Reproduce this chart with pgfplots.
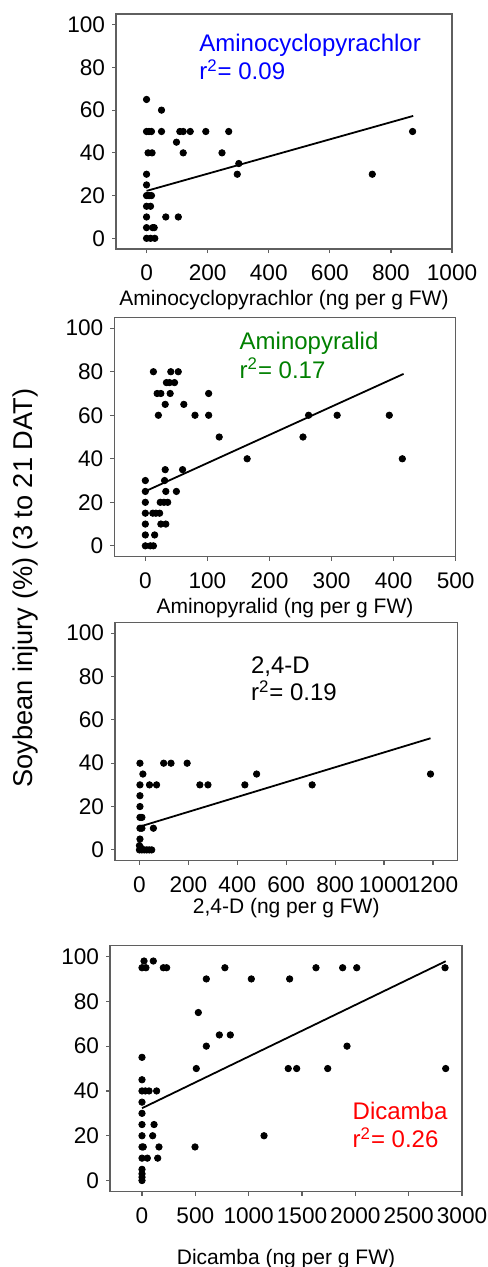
\documentclass[border=0pt]{standalone}
\usepackage{fontspec}
\setmainfont{Liberation Sans}
\usepackage{pgfplots}
\pgfplotsset{compat=1.18}

\definecolor{annblue}{RGB}{0,0,255}
\definecolor{anngreen}{RGB}{0,128,0}
\definecolor{annred}{RGB}{255,0,0}
\definecolor{boxgray}{RGB}{95,95,95}

\pgfplotsset{
  panel/.style={
    scale only axis,
    ymin=-5, ymax=105, ytick={0,20,...,100},
    axis line style={boxgray, line width=0.7bp},
    tick align=outside,
    major tick length=2bp,
    tick style={boxgray, line width=0.6bp},
    xtick pos=bottom, ytick pos=left,
    ticklabel style={font=\fontsize{11.3bp}{13bp}\selectfont},
    xticklabel style={yshift=-2.5bp},
    /pgf/number format/assume math mode=true,
    /pgf/number format/1000 sep={},
    label style={font=\fontsize{10.5bp}{12bp}\selectfont},
    xlabel style={at={(axis description cs:0.5,0)}, anchor=center},
  },
  pts/.style={only marks, mark=*, mark size=1.6bp, mark options={fill=black, draw=black}},
  fit/.style={no marks, black, line width=0.9bp},
}
\tikzset{ann/.style={anchor=base west, inner sep=0pt, font=\fontsize{12bp}{14bp}\selectfont}}

\begin{document}
\begin{tikzpicture}[x=0.5bp, y=-0.5bp]

% panel 1: aminocyclopyrachlor
\begin{axis}[panel, at={(58bp,-124.5bp)}, anchor=south west,
  width=168bp, height=117.5bp,
  xmin=-100, xmax=1000, xtick={0,200,...,1000},
  xlabel={Aminocyclopyrachlor (ng per g FW)},
  xlabel style={yshift=-25.5bp}]
  \addplot[pts] coordinates {
    (0,65)(49,60)
    (0,50)(8,50)(16,50)(49,50)(109,50)(120,50)(143,50)(194,50)(269,50)(871,50)
    (98,45)
    (5,40)(18,40)(120,40)(247,40)
    (302,35)
    (0,30)(297,30)(739,30)
    (0,25)
    (0,20)(5,20)(10,20)(16,20)
    (0,15)(13,15)
    (0,10)(63,10)(104,10)
    (0,5)(20,5)(25,5)
    (0,0)(13,0)(27,0)};
  \addplot[fit] coordinates {(0,22.2)(873,57.3)};
\end{axis}

% panel 2: aminopyralid
\begin{axis}[panel, at={(57.15bp,-278.35bp)}, anchor=south west,
  width=170.7bp, height=119.7bp,
  xmin=-50, xmax=500, xtick={0,100,...,500},
  xlabel={Aminopyralid (ng per g FW)},
  xlabel style={yshift=-25.5bp}]
  \addplot[pts] coordinates {
    (13,80)(41,80)(53,80)
    (34,75)(39,75)(47,75)
    (19,70)(25,70)(40,70)(102,70)
    (32,65)(62,65)
    (21,60)(80,60)(102,60)(263,60)(309,60)(393,60)
    (119,50)(254,50)
    (164,40)(414,40)
    (32,35)(60,35)
    (0,30)(31,30)
    (0,25)(33,25)(50,25)
    (0,20)(24,20)(30,20)(36,20)
    (0,15)(12,15)(17,15)(23,15)
    (0,10)(25,10)(33,10)
    (0,5)(15,5)
    (0,0)(8,0)(13,0)};
  \addplot[fit] coordinates {(1,25.2)(416,79)};
\end{axis}

% panel 3: 2,4-D
\begin{axis}[panel, at={(57.5bp,-430.35bp)}, anchor=south west,
  width=171.2bp, height=119.2bp,
  xmin=-100, xmax=1300, xtick={0,200,...,1200},
  xlabel={2,4-D (ng per g FW)},
  xlabel style={yshift=-23.5bp}]
  \addplot[pts] coordinates {
    (2,40)(99,40)(129,40)(195,40)
    (14,35)(479,35)(1190,35)
    (2,30)(41,30)(70,30)(247,30)(280,30)(431,30)(706,30)
    (2,25)(2,20)(2,15)(10,15)(2,10)(10,10)(57,10)(2,5)
    (0,2)(5,1)(0,0)(10,0)(20,0)(30,0)(40,0)(50,0)};
  \addplot[fit] coordinates {(3,10.8)(1190,51.5)};
\end{axis}

% panel 4: dicamba
\begin{axis}[panel, at={(55bp,-595.85bp)}, anchor=south west,
  width=176bp, height=123.2bp,
  xmin=-300, xmax=3000, xtick={0,500,...,3000},
  xlabel={Dicamba (ng per g FW)},
  xlabel style={yshift=-33.5bp}]
  \addplot[pts] coordinates {
    (19,98)(106,98)
    (0,95)(37,95)(200,95)(231,95)(777,95)(1631,95)(1881,95)(2013,95)(2841,95)
    (603,90)(1025,90)(1384,90)
    (528,75)
    (725,65)(828,65)
    (603,60)(1922,60)
    (0,55)
    (509,50)(1371,50)(1450,50)(1741,50)(2847,50)
    (0,45)
    (0,40)(31,40)(66,40)(137,40)
    (0,35)(0,30)
    (0,25)(113,25)
    (0,20)(100,20)(1144,20)
    (0,15)(12,15)(159,15)(497,15)
    (0,10)(50,10)(147,10)
    (0,5)(0,3)(0,1.5)(0,0)};
  \addplot[fit] coordinates {(0,32.3)(2847,97.9)};
\end{axis}

% annotations
\node[ann, text=annblue] at (199,52) {Aminocyclopyrachlor};
\node[ann, text=annblue] at (199,80) {r\textsuperscript{2}= 0.09};
\node[ann, text=anngreen] at (239.3,349.3) {Aminopyralid};
\node[ann, text=anngreen] at (239.3,378.3) {r\textsuperscript{2}= 0.17};
\node[ann] at (250.7,673.3) {2,4-D};
\node[ann] at (250.7,700.7) {r\textsuperscript{2}= 0.19};
\node[ann, text=annred] at (352.3,1119) {Dicamba};
\node[ann, text=annred] at (352.3,1147.7) {r\textsuperscript{2}= 0.26};

% shared y label
\node[rotate=90, font=\fontsize{13.6bp}{16bp}\selectfont] at (25,588) {Soybean injury (\%) (3 to 21 DAT)};

\pgfresetboundingbox
\path[use as bounding box] (0,0) rectangle (488,1267);
\end{tikzpicture}
\end{document}
